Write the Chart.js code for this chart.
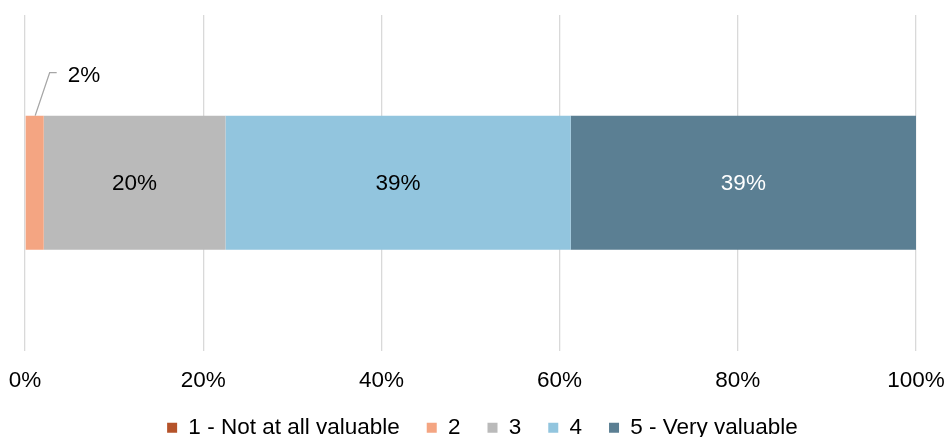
<!DOCTYPE html>
<html>
<head>
<meta charset="utf-8">
<script src="https://cdn.jsdelivr.net/npm/chart.js@4/dist/chart.umd.min.js"></script>
<style>
html,body{margin:0;padding:0;background:#fff;}
#wrap{width:950px;height:437px;position:relative;}
</style>
</head>
<body>
<div id="wrap"><canvas id="c"></canvas></div>
<script>
const categories = [""];
const seriesNames = ["1 - Not at all valuable", "2", "3", "4", "5 - Very valuable"];
const seriesValues = [[0], [2.1], [20.4], [38.75], [38.75]];
const seriesColors = ["#B5532A", "#F4A582", "#BABABA", "#92C5DE", "#5B7F93"];
const labelColors = ["#000", "#000", "#000", "#000", "#fff"];
const tickLabels = ["0%", "20%", "40%", "60%", "80%", "100%"];

const FONT = "'Liberation Sans', Arial, sans-serif";
const FS = 22.5;
const LEGEND_LIFT = 22;
const LEGEND_SHIFT_X = 12;

const legendLift = {
  id: 'legendLift',
  afterLayout(chart) {
    const lg = chart.legend;
    if (lg) {
      lg.top -= LEGEND_LIFT; lg.bottom -= LEGEND_LIFT;
      lg.left += LEGEND_SHIFT_X; lg.right += LEGEND_SHIFT_X;
    }
  }
};

const labelPlugin = {
  id: 'segLabels',
  afterDatasetsDraw(chart) {
    const ctx = chart.ctx;
    ctx.save();
    ctx.font = FS + "px " + FONT;
    chart.data.datasets.forEach((ds, i) => {
      const meta = chart.getDatasetMeta(i);
      const v = ds.data[0];
      if (!v) return;
      const el = meta.data[0];
      const txt = Math.round(v) + "%";
      const cx = (el.x + el.base) / 2;
      if (v < 5) {
        const top = el.y - el.height / 2;
        ctx.strokeStyle = "#A6A6A6";
        ctx.lineWidth = 1.3;
        ctx.beginPath();
        ctx.moveTo(cx + 0.5, top);
        ctx.lineTo(cx + 15, top - 43);
        ctx.lineTo(cx + 22, top - 43);
        ctx.stroke();
        ctx.fillStyle = "#000";
        ctx.textAlign = "left";
        ctx.textBaseline = "middle";
        ctx.fillText(txt, cx + 33, top - 40);
      } else {
        ctx.fillStyle = labelColors[i];
        ctx.textAlign = "center";
        ctx.textBaseline = "middle";
        ctx.fillText(txt, cx, el.y + 1);
      }
    });
    ctx.restore();
  }
};

new Chart(document.getElementById('c'), {
  type: 'bar',
  data: {
    labels: categories,
    datasets: seriesNames.map((n, i) => ({
      label: n,
      data: seriesValues[i],
      backgroundColor: seriesColors[i],
      borderWidth: 0,
      barPercentage: 0.4,
      categoryPercentage: 1.0
    }))
  },
  options: {
    indexAxis: 'y',
    responsive: true,
    maintainAspectRatio: false,
    animation: false,
    layout: { padding: { left: 25, right: 34, top: 15, bottom: -34 } },
    scales: {
      x: {
        stacked: true,
        min: 0, max: 100,
        afterFit(scale) { scale.paddingLeft = 0; scale.paddingRight = 0; },
        ticks: {
          stepSize: 20,
          color: "#000",
          font: { family: FONT, size: FS },
          padding: 17,
          callback: (v, idx) => tickLabels[idx]
        },
        grid: { color: "#D9D9D9", lineWidth: 1.3, drawTicks: false },
        border: { display: false }
      },
      y: {
        stacked: true,
        display: false
      }
    },
    plugins: {
      legend: {
        position: 'bottom',
        labels: {
          boxWidth: 10, boxHeight: 10,
          color: "#000",
          font: { family: FONT, size: FS },
          padding: 27
        }
      },
      tooltip: { enabled: false }
    }
  },
  plugins: [labelPlugin, legendLift]
});
</script>
</body>
</html>
